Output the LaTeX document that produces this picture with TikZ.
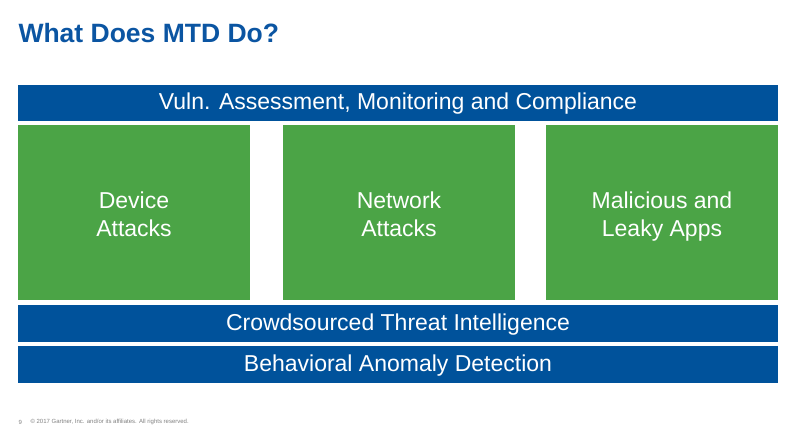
\documentclass[tikz,border=0pt]{standalone}
\usepackage{fontspec}
\setmainfont{Liberation Sans}
\begin{document}
\begin{tikzpicture}[x=1pt,y=-1pt,
  bartext/.style={text=white,font=\fontsize{23}{26}\selectfont,text height=16pt,text depth=5pt},
  gbox/.style={text=white,align=center,font=\fontsize{23}{28}\selectfont}]
\definecolor{blueb}{HTML}{00529B}
\definecolor{greenb}{HTML}{4BA446}
\definecolor{titleb}{HTML}{0B55A2}
\useasboundingbox (0,0) rectangle (796,444);
\node[anchor=west,text=titleb,font=\bfseries\fontsize{26.5}{30}\selectfont] (t) at (15,33) {What Does MTD Do?};
\fill[blueb] (18,85) rectangle (778,121);
\node[bartext] (v) at (398,104) {Vuln. Assessment, Monitoring and Compliance};
\fill[greenb] (18,125) rectangle (250,300);
\fill[greenb] (283,125) rectangle (515,300);
\fill[greenb] (546,125) rectangle (778,300);
\node[gbox,anchor=base] (d) at (134,236) {Device\\Attacks};
\node[gbox,anchor=base] (n) at (399,236) {Network\\Attacks};
\node[gbox,anchor=base] (m) at (662,236) {Malicious and\\Leaky Apps};
\fill[blueb] (18,305) rectangle (778,342);
\node[bartext] (c) at (398,325) {Crowdsourced Threat Intelligence};
\fill[blueb] (18,346) rectangle (778,383);
\node[bartext] (b) at (398,366) {Behavioral Anomaly Detection};
\node[anchor=west,text=gray,font=\fontsize{6}{7}\selectfont] (p) at (15,422) {9};
\node[anchor=west,text=gray,font=\fontsize{6}{7}\selectfont] (f) at (27,422) {\textcopyright{} 2017 Gartner, Inc. and/or its affiliates. All rights reserved.};
\end{tikzpicture}
\end{document}
